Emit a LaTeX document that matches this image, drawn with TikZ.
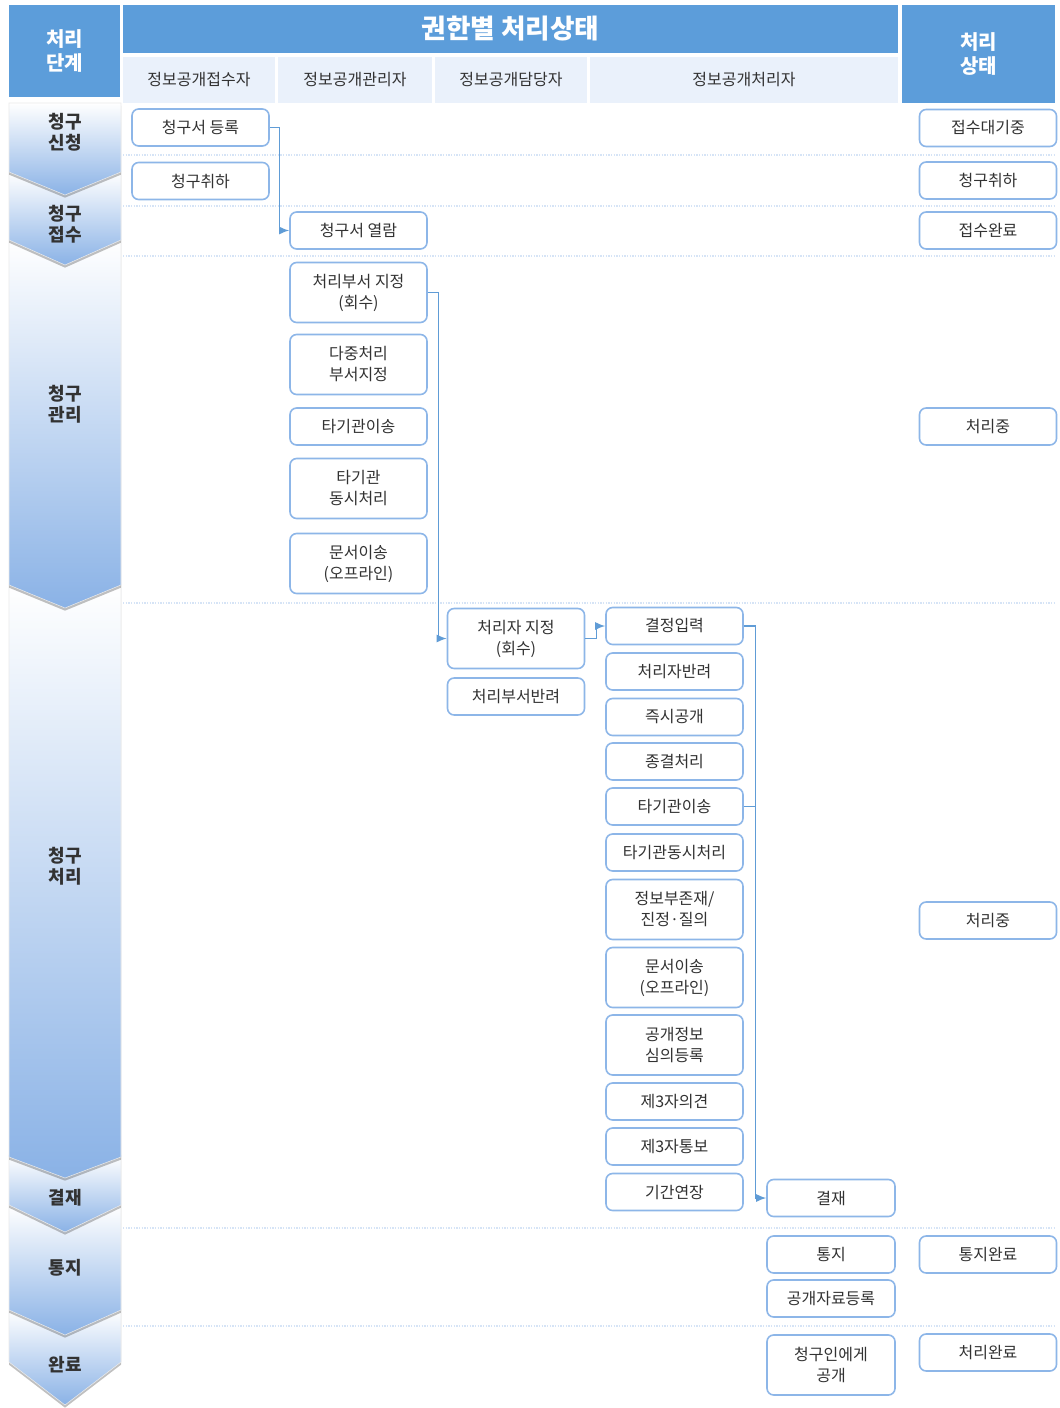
\documentclass[tikz,border=0pt]{standalone}
\usepackage{fontspec}
\setmainfont{Noto Sans CJK KR}
\usepackage{xcolor}
\usepackage{tikz}
\usetikzlibrary{shapes.geometric, arrows, arrows.meta, shadows}
\definecolor{headblue}{RGB}{92,157,218}
\definecolor{subhead}{RGB}{234,241,251}
\definecolor{boxline}{RGB}{141,182,232}
\definecolor{linkblue}{RGB}{96,156,214}
\definecolor{stageblue}{RGB}{138,178,230}
\definecolor{sepline}{RGB}{214,228,246}
\definecolor{txt}{RGB}{50,50,50}
\tikzstyle{task} = [rectangle, rounded corners=5pt,
minimum width=102.75pt,
minimum height=27.75pt,
inner sep=1pt,
text centered, align=center,
draw=boxline, line width=1.2pt,
fill=white, text=txt,
font=\fontsize{12}{15.75}\selectfont]
\tikzstyle{tall} = [minimum height=45pt]
\tikzstyle{narrow} = [minimum width=96pt]
\tikzstyle{header} = [rectangle, fill=headblue, text=white,
text centered, align=center, inner sep=0pt,
font=\fontsize{15}{18}\selectfont\bfseries]
\tikzstyle{colhead} = [rectangle, fill=subhead, text=txt,
minimum height=34.5pt, inner sep=0pt,
font=\fontsize{12}{15}\selectfont]
\tikzstyle{stage} = [top color=white, bottom color=stageblue,
draw=black!8, line width=0.4pt,
drop shadow={shadow xshift=0pt, shadow yshift=-2pt, opacity=0.35, fill=black!70}]
\tikzstyle{stagetext} = [text=txt, align=center, inner sep=0pt,
font=\fontsize{13.5}{15.75}\selectfont\bfseries]
\tikzstyle{sep} = [sepline, line width=1pt, densely dotted]
\tikzstyle{link} = [linkblue, line width=1pt]
\tikzstyle{arrow} = [link, -{Latex[length=7.5pt,width=6pt]}]

\begin{document}
\begin{tikzpicture}[x=0.75pt, y=-0.75pt]
\useasboundingbox[fill=white] (0,0) rectangle (1059,1408);

% table head
\node (phase) [header, minimum width=83.25pt, minimum height=69pt] at (64.5,51) {처리\\단계};
\node (title) [header, minimum width=581.25pt, minimum height=36pt,
  font=\fontsize{20}{24}\selectfont\bfseries] at (510.5,29) {권한별 처리상태};
\node (state) [header, minimum width=114.75pt, minimum height=73.5pt] at (978.5,54) {처리\\상태};
\node (recv) [colhead, minimum width=114pt] at (199,80) {정보공개접수자};
\node (mgr) [colhead, minimum width=115.5pt] at (355,80) {정보공개관리자};
\node (staff) [colhead, minimum width=114pt] at (511,80) {정보공개담당자};
\node (proc) [colhead, minimum width=231pt] at (744,80) {정보공개처리자};

% stage chevrons, drawn bottom first
\foreach \top/\side/\tip in {1310/1362/1405, 1205/1310/1335, 1155/1205/1232,
  585/1157/1178, 240/585/608, 172/240/265, 103/172/195}
  \path[stage] (9,\top) -- (121,\top) -- (121,\side) -- (65,\tip) -- (9,\side) -- cycle;
\node (lbl1) [stagetext] at (65,132.5) {청구\\신청};
\node (lbl2) [stagetext] at (65,224) {청구\\접수};
\node (lbl3) [stagetext] at (65,404) {청구\\관리};
\node (lbl4) [stagetext] at (65,866) {청구\\처리};
\node (lbl5) [stagetext] at (65,1198) {결재};
\node (lbl6) [stagetext] at (65,1268) {통지};
\node (lbl7) [stagetext] at (65,1365) {완료};

\foreach \y in {155,206,256,603,1228,1326}
  \draw[sep] (123,\y) -- (1056,\y);

% 접수자 / 관리자 / 담당자
\node (reg) [task] at (200.5,127.5) {청구서 등록};
\node (cancel) [task] at (200.5,181) {청구취하};
\node (view) [task] at (358.5,230.5) {청구서 열람};
\node (dept) [task, tall] at (358.5,292.5) {처리부서 지정\\(회수)};
\node (multi) [task, tall] at (358.5,364.5) {다중처리\\부서지정};
\node (transA) [task] at (358.5,426.5) {타기관이송};
\node (simulA) [task, tall] at (358.5,488.5) {타기관\\동시처리};
\node (docA) [task, tall] at (358.5,563.5) {문서이송\\(오프라인)};
\node (assign) [task, tall] at (516,638.5) {처리자 지정\\(회수)};
\node (deptret) [task] at (516,696.5) {처리부서반려};

% 처리자
\node (decide) [task] at (674.5,626) {결정입력};
\node (procret) [task] at (674.5,671.5) {처리자반려};
\node (instant) [task] at (674.5,717) {즉시공개};
\node (close) [task] at (674.5,761.5) {종결처리};
\node (transB) [task] at (674.5,806.5) {타기관이송};
\node (simulB) [task] at (674.5,852.5) {타기관동시처리};
\node (noinfo) [task, tall] at (674.5,909.5) {정보부존재/\\진정·질의};
\node (docB) [task, tall] at (674.5,977.5) {문서이송\\(오프라인)};
\node (review) [task, tall] at (674.5,1045) {공개정보\\심의등록};
\node (third) [task] at (674.5,1101.5) {제3자의견};
\node (notify3) [task] at (674.5,1146.5) {제3자통보};
\node (extend) [task] at (674.5,1192) {기간연장};
\node (approve) [task, narrow] at (831,1198) {결재};
\node (notice) [task, narrow] at (831,1254.5) {통지};
\node (pubreg) [task, narrow] at (831,1298.5) {공개자료등록};
\node (disclose) [task, narrow, tall] at (831,1365) {청구인에게\\공개};

% 처리상태
\node (st1) [task] at (988,128) {접수대기중};
\node (st2) [task] at (988,180.5) {청구취하};
\node (st3) [task] at (988,230.5) {접수완료};
\node (st4) [task] at (988,426.5) {처리중};
\node (st5) [task] at (988,920.5) {처리중};
\node (st6) [task] at (988,1254.5) {통지완료};
\node (st7) [task] at (988,1352.5) {처리완료};

\draw [arrow] (reg.east) -- ++(10,0) |- (view.west);
\draw [arrow] (dept.east) -- ++(11,0) |- (assign.west);
\draw [arrow] (assign.east) -- ++(11,0) |- (decide.west);
\draw [arrow] (decide.east) -- ++(12,0) |- (approve.west);
\draw [link] (transB.east) -- ++(12,0);
\end{tikzpicture}
\end{document}
